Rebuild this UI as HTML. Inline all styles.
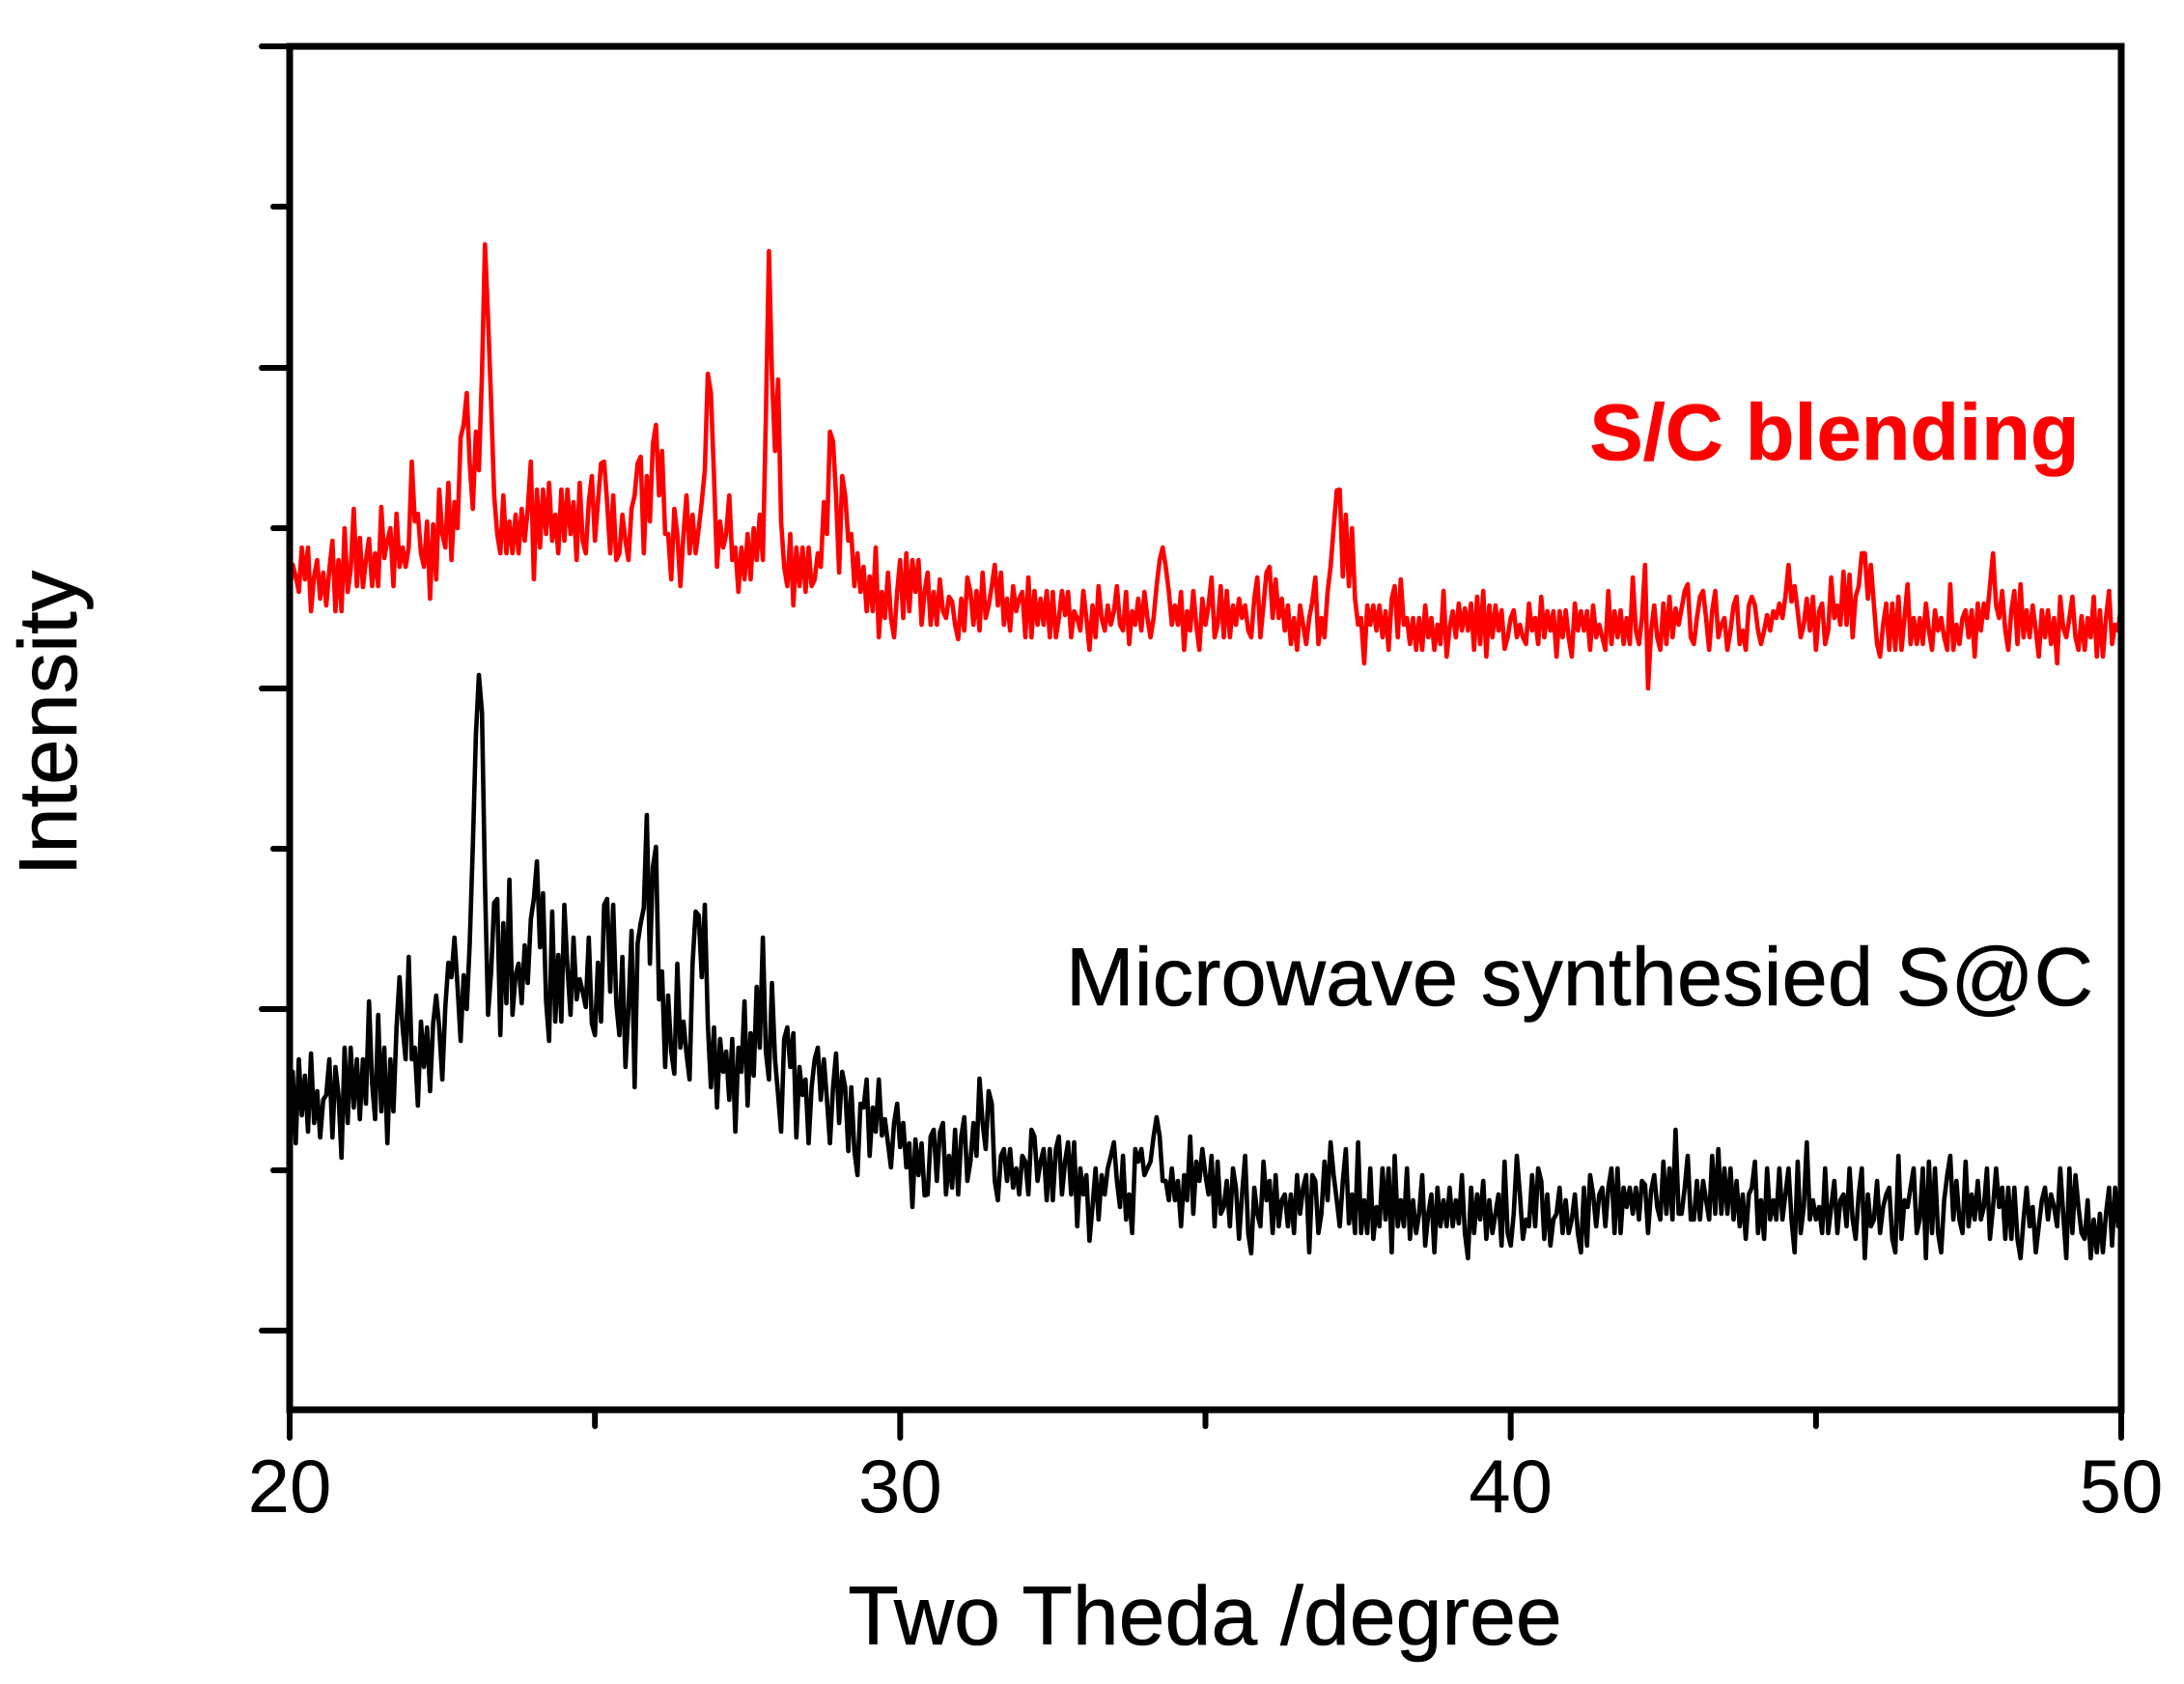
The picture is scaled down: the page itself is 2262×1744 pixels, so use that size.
<!DOCTYPE html>
<html lang="en">
<head>
<meta charset="utf-8">
<title>XRD patterns: S/C blending and microwave synthesised S@C</title>
<style>
  html, body { margin: 0; padding: 0; background: #fff; }
  svg { display: block; font-family: "Liberation Sans", Arial, sans-serif; }
</style>
</head>
<body>
<svg id="chart" xmlns="http://www.w3.org/2000/svg" width="2262" height="1744" viewBox="0 0 2262 1744">
  <rect x="0" y="0" width="2262" height="1744" fill="#ffffff"/>
  <g id="series-layer"></g>
  <g id="axes-layer"></g>
  <text x="1248" y="1703" font-size="86" text-anchor="middle" fill="#000" stroke="#000" stroke-width="0.6">Two Theda /degree</text>
  <text transform="translate(79,749) rotate(-90)" font-size="85" text-anchor="middle" fill="#000" stroke="#000" stroke-width="0.6">Intensity</text>
  <text x="1900" y="476" font-size="83" font-weight="bold" text-anchor="middle" fill="#ff0000" stroke="#ff0000" stroke-width="0.6">S/C blending</text>
  <text x="1636" y="1041" font-size="85" text-anchor="middle" fill="#000" stroke="#000" stroke-width="0.6">Microwave synthesied S@C</text>
</svg>
<script>
const thetaStart = 20;
const thetaStep = 0.05;
const xDomain = [20, 50];
const yDomain = [0, 1412];
const xTickValues = [20, 25, 30, 35, 40, 45, 50];
const xTickLabels = ["20", "", "30", "", "40", "", "50"];
const yTickValues = [82, 248, 415, 581, 747, 913, 1079, 1246, 1412];
const yTickMajor = [true, false, true, false, true, false, true, false, true];

const blendingIntensity = [
847,875,863,847,893,860,893,827,863,880,840,867,833,870,900,827,880,827,913,847,
870,933,853,903,852,880,902,853,887,853,935,882,900,913,853,928,873,893,873,893,
982,920,928,887,873,920,840,917,860,953,907,893,960,880,940,913,1007,1020,1053,980,
933,1013,973,1073,1207,1130,1043,947,907,887,947,887,920,887,927,887,933,900,933,982,
860,953,893,953,907,960,900,927,887,953,900,953,907,940,880,960,900,887,940,967,
900,940,980,982,940,887,947,880,887,927,900,880,933,947,980,987,887,967,920,1000,
1020,947,993,907,907,860,933,907,853,907,947,887,927,887,913,940,973,1073,1053,967,
873,920,893,907,947,880,893,847,893,860,907,860,913,880,927,880,1027,1200,1073,993,
1067,920,873,853,907,833,893,853,893,847,893,853,860,887,873,940,907,1013,1003,947,
867,967,947,900,907,853,887,847,873,827,863,827,893,800,847,820,867,820,800,847,
880,820,887,827,880,847,880,813,847,867,813,847,813,860,827,820,842,837,813,798,
840,807,862,847,813,848,807,867,820,833,853,875,833,867,813,840,807,853,827,840,
847,800,862,800,848,813,840,813,848,800,847,800,820,848,823,847,800,827,820,807,
848,820,787,833,800,853,820,807,833,813,827,853,813,807,847,793,827,813,840,807,
847,820,800,820,853,880,893,873,847,813,833,813,847,787,827,807,848,813,787,840,
813,833,862,800,813,853,800,848,800,833,813,840,820,833,807,800,840,862,800,833,
867,873,820,860,820,840,807,833,793,820,787,833,813,793,820,837,862,793,820,800,
847,873,913,952,953,863,927,853,913,840,813,820,773,833,813,833,807,833,800,827,
787,840,853,800,860,813,820,793,820,787,820,787,833,800,820,787,813,793,848,780,
810,827,800,835,807,830,807,835,787,842,793,848,780,833,800,833,807,828,788,800,
820,828,800,813,800,793,835,807,820,793,842,800,827,807,827,780,827,800,828,800,
780,835,807,827,807,827,787,833,800,813,800,787,848,793,827,800,828,793,820,793,
862,807,793,820,875,747,807,833,800,787,835,793,842,800,830,813,830,848,855,800,
793,820,842,848,820,787,827,848,800,813,820,787,807,833,842,793,807,787,833,842,
833,807,793,807,823,807,827,820,835,820,842,875,837,853,827,800,813,840,807,842,
787,827,835,793,807,862,820,833,813,868,813,865,800,842,853,887,887,840,875,833,
793,780,813,835,787,835,787,842,787,820,855,793,820,793,820,793,835,807,787,828,
807,820,800,787,855,787,813,793,820,828,800,828,780,835,807,835,820,853,887,833,
820,848,807,787,828,848,793,855,800,828,800,833,807,780,828,800,828,793,820,773,
842,810,800,820,842,800,787,822,787,820,800,842,780,828,780,820,848,793,813,807,
835
];

const microwaveIntensity = [
313,350,276,363,305,346,288,369,297,330,282,321,326,363,282,355,326,261,375,297,
375,313,363,301,363,317,423,338,301,409,309,375,276,363,309,396,448,396,363,469,
363,375,315,402,355,396,330,400,429,396,342,417,463,448,489,438,382,450,415,483,
583,699,761,722,545,409,454,525,529,388,504,421,549,409,450,462,421,481,442,508,
529,568,479,535,423,382,516,402,471,402,523,458,409,489,425,446,433,417,489,400,
388,463,402,523,529,433,523,421,388,469,355,415,496,334,483,504,520,616,462,562,
583,425,454,355,429,371,348,462,375,402,369,342,462,516,512,448,523,400,334,396,
313,384,350,371,321,384,288,375,350,423,315,390,346,438,375,489,371,342,442,363,
326,288,384,396,355,390,282,355,326,342,276,334,363,375,321,363,321,276,334,369,
297,350,334,268,334,268,243,317,313,342,263,313,288,342,284,301,276,251,297,317,
272,297,251,276,210,280,243,276,222,223,283,290,237,287,297,223,263,230,290,223,
283,303,237,257,297,263,343,297,270,330,317,237,217,263,270,237,270,230,250,223,
263,257,223,290,283,237,257,270,217,270,217,270,283,223,257,277,223,277,190,250,
223,243,175,210,250,197,243,223,250,263,277,237,210,263,197,223,183,270,257,270,
243,250,257,283,303,283,237,237,217,250,217,237,190,243,217,283,203,257,237,270,
243,223,263,190,257,203,210,237,190,250,230,177,223,263,183,162,230,203,190,257,
217,237,183,243,190,217,223,190,223,183,243,203,230,243,163,243,237,183,203,257,
217,277,243,217,190,237,270,193,223,183,277,183,217,183,250,177,210,190,250,197,
250,163,263,190,217,190,250,177,217,183,203,243,170,203,223,163,230,190,217,190,
230,190,217,193,243,183,157,230,183,223,197,237,177,217,183,203,223,170,257,183,
170,203,263,223,177,197,190,243,190,250,237,177,223,170,197,203,230,183,217,183,
197,223,183,163,230,170,243,223,190,223,230,190,230,250,183,250,183,230,210,230,
203,230,197,237,233,183,227,243,210,197,257,203,250,197,290,203,203,230,263,197,
197,237,197,237,217,197,263,203,270,203,250,203,250,197,237,190,223,177,223,230,
257,183,217,177,250,197,217,197,250,197,223,250,197,163,257,183,210,277,197,217,
197,210,183,250,183,210,237,183,217,223,190,250,197,177,223,250,157,223,190,197,
237,183,210,223,230,177,163,263,177,217,210,230,250,183,197,250,157,257,183,250,
183,163,217,243,263,197,237,197,183,257,190,223,197,237,197,210,250,177,210,250,
210,230,177,230,177,230,177,157,197,230,190,210,163,190,217,230,197,223,210,190,
250,203,157,250,183,243,210,183,177,217,157,197,163,203,163,203,230,170,230,190,
210
];

const SVG_NS = "http://www.w3.org/2000/svg";
const plotLeft = 300, plotRight = 2197, plotTop = 48, plotBottom = 1460;
const axisWidth = 7;
const tickWidth = 6;
const majorLength = 29, minorLength = 17;

function xScale(v) {
  return plotLeft + (v - xDomain[0]) / (xDomain[1] - xDomain[0]) * (plotRight - plotLeft);
}
function yScale(v) {
  return plotBottom - (v - yDomain[0]) / (yDomain[1] - yDomain[0]) * (plotBottom - plotTop);
}
function thetaAt(i) {
  return thetaStart + i * thetaStep;
}
function tracePoints(values) {
  return values.map(function (v, i) {
    return xScale(thetaAt(i)).toFixed(1) + "," + yScale(v).toFixed(1);
  }).join(" ");
}
function makeLine(x1, y1, x2, y2, width) {
  const el = document.createElementNS(SVG_NS, "line");
  el.setAttribute("x1", x1);
  el.setAttribute("y1", y1);
  el.setAttribute("x2", x2);
  el.setAttribute("y2", y2);
  el.setAttribute("stroke", "#000");
  el.setAttribute("stroke-width", width);
  el.setAttribute("stroke-linecap", "square");
  return el;
}

const seriesLayer = document.getElementById("series-layer");
const axesLayer = document.getElementById("axes-layer");

const microwaveTrace = document.createElementNS(SVG_NS, "polyline");


microwaveTrace.setAttribute("points", tracePoints(microwaveIntensity));
microwaveTrace.setAttribute("fill", "none");
microwaveTrace.setAttribute("stroke", "#000000");
microwaveTrace.setAttribute("stroke-width", "4.6");
microwaveTrace.setAttribute("stroke-linejoin", "round");
seriesLayer.appendChild(microwaveTrace);

const blendingTrace = document.createElementNS(SVG_NS, "polyline");


blendingTrace.setAttribute("points", tracePoints(blendingIntensity));
blendingTrace.setAttribute("fill", "none");
blendingTrace.setAttribute("stroke", "#ff0000");
blendingTrace.setAttribute("stroke-width", "4.6");
blendingTrace.setAttribute("stroke-linejoin", "round");
seriesLayer.appendChild(blendingTrace);

const leftAxis = makeLine(plotLeft, plotTop, plotLeft, plotBottom, axisWidth);


axesLayer.appendChild(leftAxis);

const rightAxis = makeLine(plotRight, plotTop, plotRight, plotBottom, axisWidth);


axesLayer.appendChild(rightAxis);

const topAxis = makeLine(plotLeft, plotTop, plotRight, plotTop, axisWidth);


axesLayer.appendChild(topAxis);

const bottomAxis = makeLine(plotLeft, plotBottom, plotRight, plotBottom, axisWidth);


axesLayer.appendChild(bottomAxis);

yTickValues.forEach(function (v, i) {
  const len = yTickMajor[i] ? majorLength : minorLength;
  const tick = makeLine(plotLeft - len, yScale(v), plotLeft, yScale(v), tickWidth);
  
  
  tick.setAttribute("stroke-linecap", "round");
  axesLayer.appendChild(tick);
});

xTickValues.forEach(function (v, i) {
  const major = xTickLabels[i] !== "";
  const len = major ? majorLength : minorLength;
  const tick = makeLine(xScale(v), plotBottom, xScale(v), plotBottom + len, tickWidth);
  
  
  tick.setAttribute("stroke-linecap", "round");
  axesLayer.appendChild(tick);
  if (major) {
    const label = document.createElementNS(SVG_NS, "text");
    
    
    label.setAttribute("x", xScale(v));
    label.setAttribute("y", 1566);
    label.setAttribute("font-size", 78);
    label.setAttribute("text-anchor", "middle");
    label.setAttribute("fill", "#000");
    label.textContent = xTickLabels[i];
    axesLayer.appendChild(label);
  }
});
</script>
</body>
</html>
